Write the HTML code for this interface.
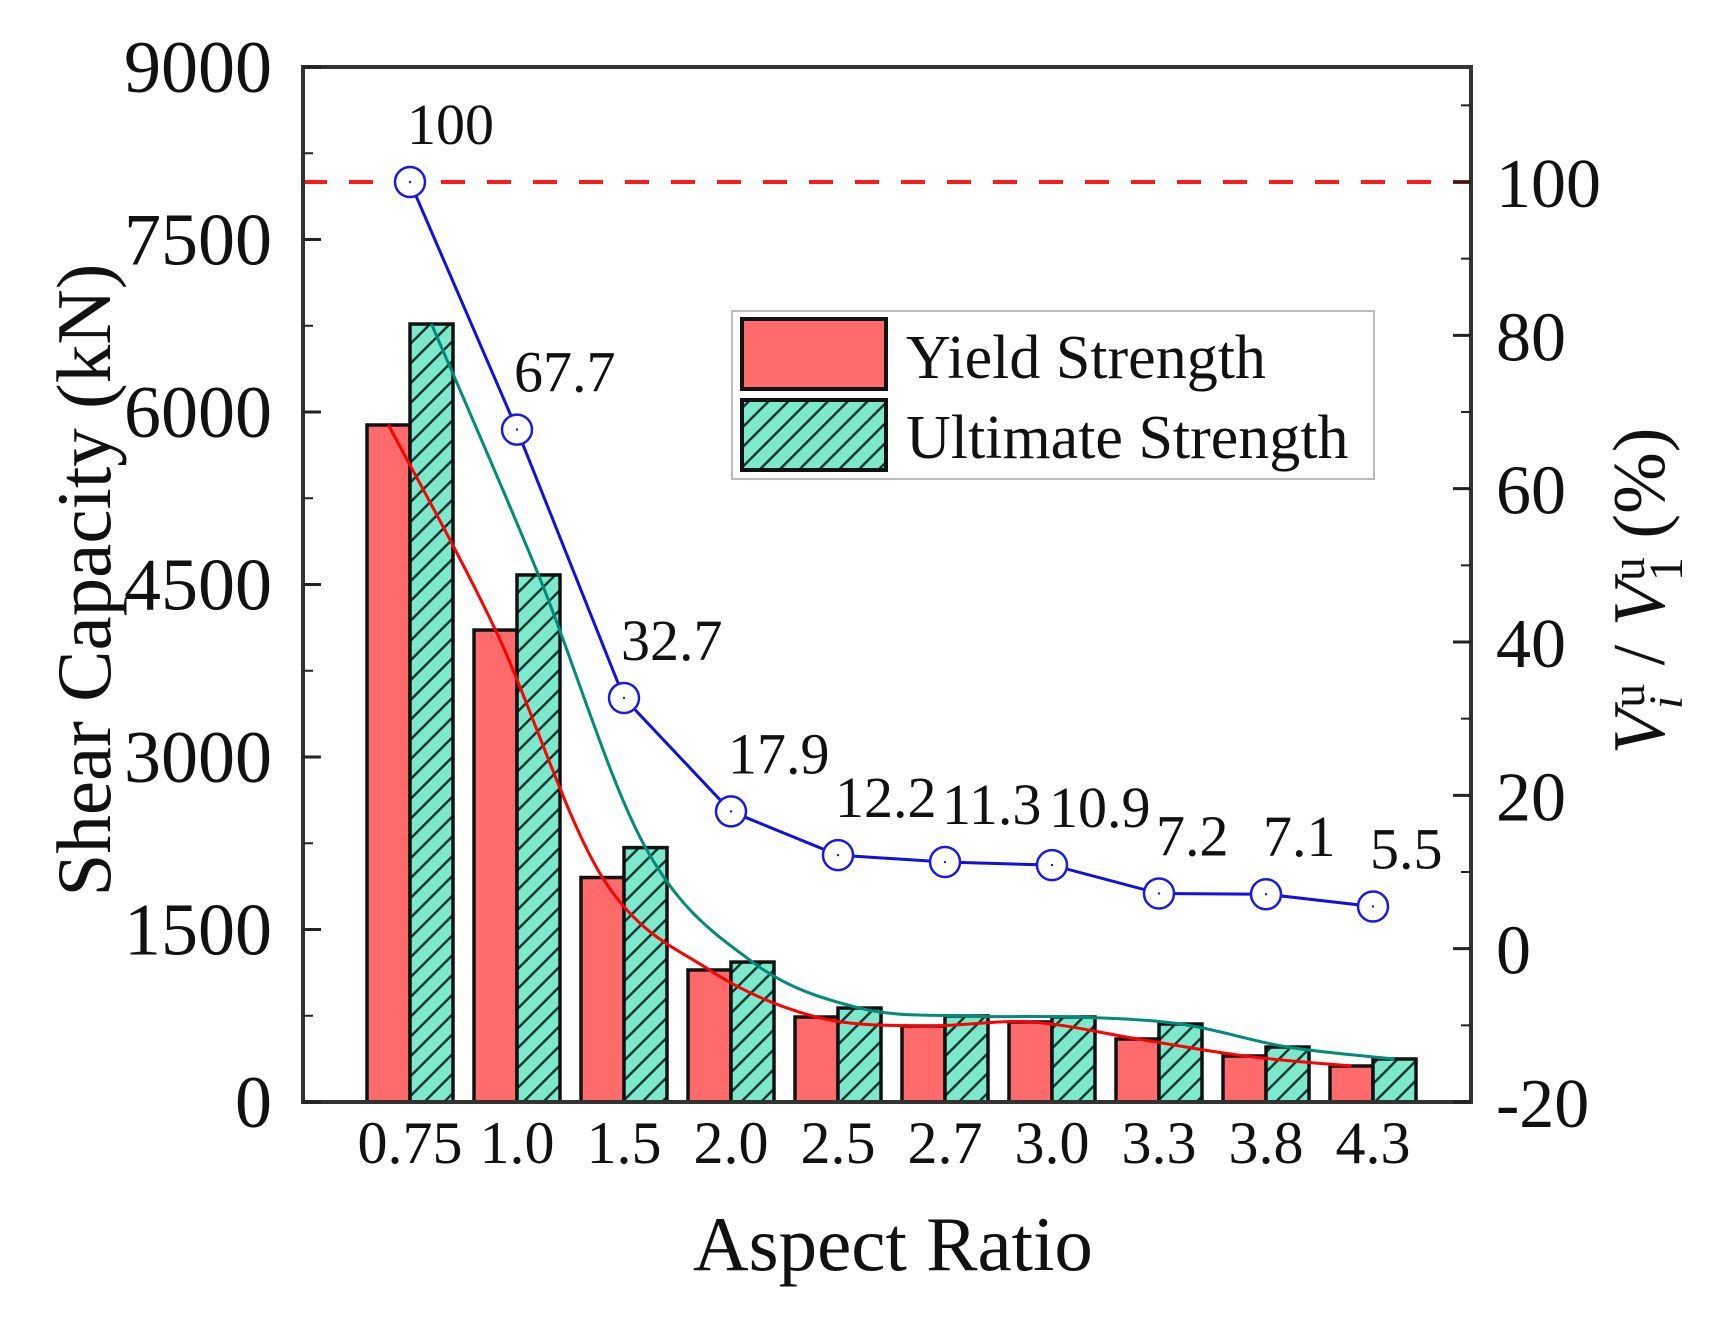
<!DOCTYPE html>
<html><head><meta charset="utf-8"><style>
html,body{margin:0;padding:0;background:#fff}
svg text{font-family:"Liberation Serif","DejaVu Serif",serif;fill:#111}
</style></head><body>
<svg id="chart" width="1724" height="1331" viewBox="0 0 1724 1331" xmlns="http://www.w3.org/2000/svg">
<defs>
<pattern id="hatch" patternUnits="userSpaceOnUse" width="14" height="14" patternTransform="rotate(45)">
<rect width="14" height="14" fill="#7ee8cc"/>
<line x1="0" y1="0" x2="0" y2="14" stroke="#0b3b30" stroke-width="5"/>
</pattern>
</defs>
<g id="plot"></g>
</svg>
<script>
const categories = ["0.75","1.0","1.5","2.0","2.5","2.7","3.0","3.3","3.8","4.3"];
const yieldValues = [5887,4104,1952,1148,739,661,696,548,400,313];
const ultimateValues = [6765,4583,2212,1217,817,748,739,678,478,374];
const ratioValues = [100,67.7,32.7,17.9,12.2,11.3,10.9,7.2,7.1,5.5];
const ratioLabels = ["100","67.7","32.7","17.9","12.2","11.3","10.9","7.2","7.1","5.5"];
const leftTicks = [0,1500,3000,4500,6000,7500,9000];
const rightTicks = [-20,0,20,40,60,80,100];
const referenceLine = 100;

const NS="http://www.w3.org/2000/svg";
const L=303,R=1471,T=67,B=1102;
const yL=v=>B-(v/9000)*(B-T);
const yR=v=>B-(v+20)*(B-182)/120;
const xC=i=>410+i*107;
const BW=43;
const plot=document.getElementById('plot');
function mk(tag,attrs,parent){const e=document.createElementNS(NS,tag);for(const k in attrs)e.setAttribute(k,attrs[k]);(parent||plot).appendChild(e);return e;}
function txt(s,x,y,size,anchor,parent){const t=mk('text',{x:x,y:y,'font-size':size,'text-anchor':anchor||'start'},parent);t.textContent=s;return t;}

// bars
categories.forEach((c,i)=>{
  const r=mk('rect',{x:xC(i)-BW,y:yL(yieldValues[i]),width:BW,height:B-yL(yieldValues[i]),fill:'#ff6b6b',stroke:'#111','stroke-width':3.5});
  
  
  const u=mk('rect',{x:xC(i),y:yL(ultimateValues[i]),width:BW,height:B-yL(ultimateValues[i]),fill:'url(#hatch)',stroke:'#111','stroke-width':3.5});
  
  
});

// smooth curves
function spline(pts){let d=`M${pts[0][0]},${pts[0][1]}`;for(let i=0;i<pts.length-1;i++){const p0=pts[Math.max(0,i-1)],p1=pts[i],p2=pts[i+1],p3=pts[Math.min(pts.length-1,i+2)];const c1=[p1[0]+(p2[0]-p0[0])/6,p1[1]+(p2[1]-p0[1])/6],c2=[p2[0]-(p3[0]-p1[0])/6,p2[1]-(p3[1]-p1[1])/6];d+=` C${c1[0]},${c1[1]} ${c2[0]},${c2[1]} ${p2[0]},${p2[1]}`;}return d;}
const rc=mk('path',{d:spline(yieldValues.map((v,i)=>[xC(i)-BW/2,yL(v)])),fill:'none',stroke:'#ff0000','stroke-width':3});


const tc=mk('path',{d:spline(ultimateValues.map((v,i)=>[xC(i)+BW/2,yL(v)])),fill:'none',stroke:'#008b7a','stroke-width':3});



// reference dashed line
const dl=mk('line',{x1:L,x2:R,y1:yR(referenceLine),y2:yR(referenceLine),stroke:'#ff1a1a','stroke-width':4,'stroke-dasharray':'24 22'});



// ratio line
const rl=mk('polyline',{points:ratioValues.map((v,i)=>`${xC(i)},${yR(v)}`).join(' '),fill:'none',stroke:'#1010e0','stroke-width':3});


ratioValues.forEach((v,i)=>{
  const px=xC(i),py=yR(v);
  const c=mk('circle',{cx:px,cy:py,r:15,fill:'#fff',stroke:'#1a1ae6','stroke-width':2.5});
  
  
  mk('circle',{cx:px,cy:py,r:1.2,fill:'#1a1ae6'});
  const t=txt(ratioLabels[i],px-3,py-38,58);
  
  
});

// frame
const fr=mk('rect',{x:L,y:T,width:R-L,height:B-T,fill:'none',stroke:'#333','stroke-width':4});



// left ticks
leftTicks.forEach(v=>{
  mk('line',{x1:L,x2:L+18,y1:yL(v),y2:yL(v),stroke:'#222','stroke-width':3});
  const t=txt(String(v),272,yL(v)+25,74,'end');
  
  
});
for(let v=750;v<9000;v+=1500) mk('line',{x1:L,x2:L+10,y1:yL(v),y2:yL(v),stroke:'#222','stroke-width':2});
// right ticks
rightTicks.forEach(v=>{
  mk('line',{x1:R,x2:R-18,y1:yR(v),y2:yR(v),stroke:'#222','stroke-width':3});
  const t=txt(String(v),1496,yR(v)+25,70,'start');
  
  
});
for(let v=-10;v<=110;v+=20) mk('line',{x1:R,x2:R-10,y1:yR(v),y2:yR(v),stroke:'#222','stroke-width':2});
// x labels
categories.forEach((c,i)=>{
  const t=txt(c,xC(i),1163,60,'middle');
  
  
});

// axis titles
const xt=txt('Aspect Ratio',893,1270,77,'middle');


const yt=mk('text',{transform:'translate(110,580) rotate(-90)','font-size':77,'text-anchor':'middle'});
yt.textContent='Shear Capacity (kN)';


const y2=mk('text',{transform:'translate(1664,591) rotate(-90)','font-size':74,'text-anchor':'middle'});
y2.innerHTML='<tspan font-style="italic">V</tspan><tspan font-size="48" dy="18" font-style="italic">i</tspan><tspan font-size="48" dx="-12" dy="-38">u</tspan><tspan dy="20"> / </tspan><tspan font-style="italic">V</tspan><tspan font-size="48" dy="18">1</tspan><tspan font-size="48" dx="-24" dy="-38">u</tspan><tspan dy="20"> (%)</tspan>';



// legend
const lg=mk('g',{});


mk('rect',{x:732,y:311,width:642,height:168,fill:'#fff',stroke:'#bbb','stroke-width':2},lg);
const s1=mk('rect',{x:742,y:319,width:144,height:70,fill:'#ff6b6b',stroke:'#111','stroke-width':4},lg);


const s2=mk('rect',{x:742,y:400,width:144,height:70,fill:'url(#hatch)',stroke:'#111','stroke-width':4},lg);


const l1=txt('Yield Strength',906,378,62,'start',lg);


const l2=txt('Ultimate Strength',906,458,62,'start',lg);


</script>
</body></html>
